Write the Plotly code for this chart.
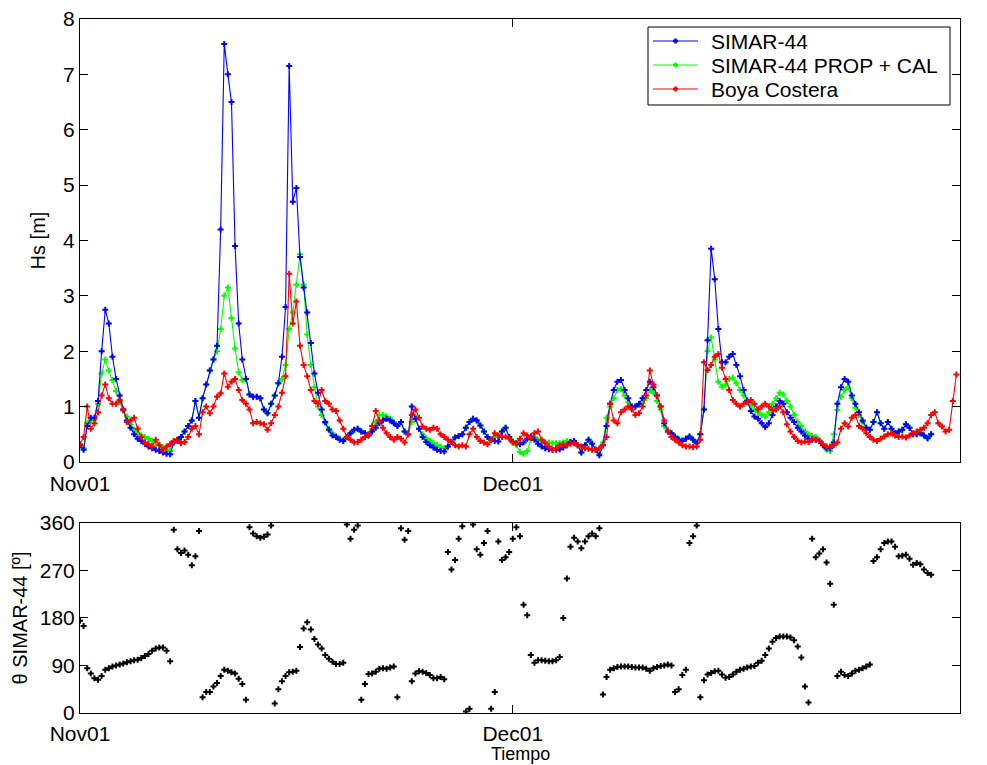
import pandas as pd
import plotly.graph_objects as go
from plotly.subplots import make_subplots

# 6-hourly samples starting 2001-11-01 00:00, one row per day (00, 06, 12, 18 h)
HS_SIMAR = [
    0.30, 0.22, 0.65, 0.80,  0.80, 1.10, 2.00, 2.75,  2.50, 1.90, 1.50, 1.20,
    0.95, 0.75, 0.62, 0.50,  0.42, 0.38, 0.33, 0.28,  0.25, 0.22, 0.20, 0.17,
    0.15, 0.14, 0.35, 0.40,  0.45, 0.55, 0.65, 0.75,  1.10, 0.80, 1.15, 1.40,
    1.65, 1.85, 2.10, 4.20,  7.55, 7.00, 6.50, 3.90,  2.50, 1.85, 1.50, 1.22,
    1.18, 1.18, 1.15, 0.95,  0.88, 1.05, 1.20, 1.42,  1.90, 2.80, 7.15, 4.70,
    4.95, 3.70, 3.15, 2.70,  2.15, 1.60, 1.25, 0.95,  0.72, 0.58, 0.48, 0.45,
    0.40, 0.38, 0.45, 0.52,  0.58, 0.60, 0.55, 0.52,  0.48, 0.55, 0.62, 0.70,
    0.75, 0.78, 0.75, 0.70,  0.65, 0.72, 0.55, 0.50,  1.00, 0.78, 0.60, 0.45,
    0.36, 0.30, 0.26, 0.22,  0.20, 0.19, 0.28, 0.36,  0.44, 0.47, 0.50, 0.62,
    0.72, 0.78, 0.75, 0.66,  0.55, 0.45, 0.40, 0.38,  0.37, 0.55, 0.62, 0.45,
    0.36, 0.34, 0.32, 0.35,  0.42, 0.46, 0.40, 0.33,  0.28, 0.25, 0.23, 0.22,
    0.22, 0.23, 0.26, 0.30,  0.36, 0.38, 0.30, 0.17,  0.30, 0.40, 0.33, 0.22,
    0.12, 0.30, 0.65, 1.05,  1.30, 1.45, 1.48, 1.30,  1.15, 1.00, 1.00, 1.05,
    1.15, 1.30, 1.45, 1.35,  1.20, 1.00, 0.70, 0.55,  0.52, 0.45, 0.40, 0.38,
    0.42, 0.46, 0.40, 0.34,  0.50, 0.95, 2.20, 3.85,  3.30, 2.40, 1.80, 1.80,
    1.90, 1.95, 1.75, 1.55,  1.30, 1.10, 0.92, 0.82,  0.78, 0.70, 0.63, 0.70,
    0.85, 1.00, 1.10, 1.05,  0.90, 0.80, 0.72, 0.62,  0.55, 0.48, 0.42, 0.40,
    0.40, 0.38, 0.30, 0.25,  0.25, 0.35, 1.05, 1.35,  1.50, 1.45, 1.20, 1.05,
    0.90, 0.75, 0.62, 0.58,  0.72, 0.90, 0.70, 0.60,  0.72, 0.60, 0.52, 0.55,
    0.58, 0.68, 0.62, 0.50,  0.50, 0.52, 0.48, 0.43,  0.50, None, None, None,
    None, None, None, None,
]

HS_PROP_CAL = [
    0.30, 0.25, 0.70, 0.75,  0.76, 1.05, 1.60, 1.85,  1.65, 1.48, 1.28, 1.08,
    0.92, 0.82, 0.68, 0.58,  0.52, 0.48, 0.45, 0.42,  0.38, 0.34, 0.30, 0.26,
    0.22, 0.20, 0.35, 0.40,  0.45, 0.55, 0.65, 0.75,  1.10, 0.80, 1.15, 1.40,
    1.65, 1.85, 2.00, 2.40,  3.00, 3.15, 2.60, 2.05,  1.62, 1.48, 1.50, 1.22,
    1.18, 1.18, 1.15, 0.95,  0.88, 1.05, 1.20, 1.42,  1.50, 1.75, 2.40, 2.70,
    3.20, 3.75, 3.20, 2.30,  1.75, 1.35, 1.00, 0.85,  0.70, 0.60, 0.52, 0.47,
    0.42, 0.40, 0.45, 0.52,  0.58, 0.60, 0.55, 0.52,  0.48, 0.60, 0.72, 0.85,
    0.85, 0.82, 0.78, 0.72,  0.66, 0.72, 0.55, 0.50,  0.72, 0.82, 0.60, 0.50,
    0.43, 0.38, 0.34, 0.30,  0.27, 0.25, 0.28, 0.36,  0.44, 0.47, 0.50, 0.62,
    0.72, 0.78, 0.75, 0.66,  0.55, 0.45, 0.40, 0.45,  0.45, 0.55, 0.62, 0.45,
    0.38, 0.30, 0.18, 0.15,  0.20, 0.40, 0.45, 0.40,  0.38, 0.36, 0.35, 0.34,
    0.34, 0.34, 0.35, 0.38,  0.36, 0.38, 0.30, 0.17,  0.30, 0.40, 0.33, 0.22,
    0.15, 0.35, 0.80, 1.00,  1.15, 1.30, 1.32, 1.20,  1.08, 1.00, 1.00, 1.03,
    1.06, 1.15, 1.30, 1.25,  1.10, 0.95, 0.65, 0.58,  0.52, 0.47, 0.42, 0.40,
    0.42, 0.46, 0.40, 0.35,  0.50, 0.95, 2.00, 2.25,  1.85, 1.45, 1.36, 1.40,
    1.50, 1.52, 1.42, 1.30,  1.20, 1.12, 1.03, 0.95,  0.90, 0.85, 0.82, 0.90,
    1.05, 1.15, 1.25, 1.22,  1.10, 1.00, 0.85, 0.72,  0.65, 0.55, 0.50, 0.47,
    0.45, 0.40, 0.30, 0.22,  0.20, 0.50, 0.94, 1.18,  1.30, 1.35, 1.15, 0.98,
    0.85, 0.72, 0.62, 0.58,  0.72, 0.90, 0.70, 0.60,  0.72, 0.60, 0.52, 0.55,
    0.58, 0.68, 0.62, 0.50,  0.50, 0.52, 0.48, 0.43,  0.50, None, None, None,
    None, None, None, None,
]

HS_BOYA = [
    0.32, 0.45, 1.00, 0.60,  0.70, 0.90, 1.20, 1.40,  1.15, 1.05, 1.05, 1.12,
    0.95, 0.72, 0.75, 0.80,  0.60, 0.45, 0.35, 0.32,  0.28, 0.40, 0.30, 0.22,
    0.28, 0.32, 0.38, 0.38,  0.34, 0.36, 0.45, 0.60,  0.65, 0.50, 0.90, 1.00,
    0.88, 1.00, 1.18, 1.24,  1.60, 1.36, 1.45, 1.50,  1.30, 1.12, 1.05, 0.95,
    0.70, 0.72, 0.70, 0.68,  0.58, 0.70, 0.85, 1.00,  1.25, 1.55, 3.40, 2.50,
    2.90, 2.10, 1.75, 1.55,  1.30, 1.10, 1.05, 1.30,  1.10, 1.05, 0.95, 0.92,
    0.75, 0.60, 0.45, 0.40,  0.35, 0.36, 0.40, 0.45,  0.50, 0.65, 0.92, 0.75,
    0.62, 0.52, 0.45, 0.40,  0.45, 0.42, 0.35, 0.50,  0.85, 0.95, 0.80, 0.64,
    0.60, 0.58, 0.62, 0.60,  0.50, 0.45, 0.40, 0.36,  0.30, 0.28, 0.30, 0.28,
    0.50, 0.60, 0.45, 0.38,  0.35, 0.32, 0.40, 0.52,  0.48, 0.45, 0.46, 0.42,
    0.35, 0.34, 0.42, 0.52,  0.48, 0.43, 0.52, 0.55,  0.40, 0.34, 0.28, 0.22,
    0.25, 0.30, 0.32, 0.30,  0.33, 0.34, 0.30, 0.28,  0.25, 0.24, 0.22, 0.22,
    0.25, 0.30, 0.45, 1.05,  0.75, 0.70, 0.90, 0.95,  1.00, 0.95, 0.85, 0.88,
    1.00, 1.20, 1.65, 1.40,  1.20, 1.00, 0.75, 0.55,  0.45, 0.40, 0.35, 0.30,
    0.28, 0.28, 0.27, 0.28,  0.40, 1.80, 1.66, 1.75,  1.90, 1.95, 1.70, 1.50,
    1.30, 1.12, 1.05, 1.00,  1.05, 1.08, 1.12, 1.05,  0.95, 1.00, 1.05, 1.00,
    0.94, 0.95, 1.00, 0.90,  0.68, 0.55, 0.45, 0.38,  0.35, 0.37, 0.36, 0.42,
    0.40, 0.38, 0.32, 0.28,  0.28, 0.30, 0.35, 0.60,  0.70, 0.64, 0.80, 0.85,
    0.65, 0.60, 0.52, 0.45,  0.40, 0.38, 0.42, 0.46,  0.50, 0.52, 0.48, 0.45,
    0.46, 0.44, 0.48, 0.52,  0.55, 0.58, 0.62, 0.70,  0.85, 0.90, 0.70, 0.64,
    0.55, 0.58, 1.10, 1.58,
]

DIR_SIMAR = [
    175, 165, 85, 75,   66, 63, 70, 82,    85, 88, 90, 92,    94, 96, 98, 100,
    101, 104, 108, 112, 118, 122, 124, 124, 118, 98, 347, 310, 303, 308, 300, 280,
    297, 345, 30, 40,   40, 50, 57, 70,    82, 80, 77, 75,    65, 55, 25, 352,
    340, 335, 332, 334, 338, 355, 18, 45,  60, 70, 77, 78,    80, 125, 160, 172,
    158, 140, 130, 122, 110, 103, 97, 93,  93, 95, 357, 330,  347, 355, 25, 55,
    74, 75, 78, 84,     85, 84, 86, 88,    30, 350, 328, 345, 60, 75, 79, 78,
    76, 72, 66, 66,     68, 64, 305, 272,  290, 330, 354, 3,  8, 357, 310, 300,
    322, 345, 8, 40,    325, 290, 295, 305, 330, 352, 335, 205, 185, 110, 95, 100,
    100, 99, 98, 98,    100, 106, 180, 255, 315, 332, 325, 312, 325, 335, 340, 335,
    350, 35, 68, 82,    85, 87, 88, 88,    88, 87, 86, 86,    86, 84, 80, 85,
    87, 89, 90, 92,     90, 40, 45, 72,    82, 322, 335, 355, 30, 62, 73, 76,
    79, 80, 73, 67,     68, 73, 78, 82,    84, 86, 88, 89,    95, 99, 110, 122,
    135, 142, 145, 145, 145, 143, 138, 126, 105, 50, 20, 330, 295, 302, 310, 285,
    245, 205, 70, 78,   72, 70, 75, 80,    82, 85, 88, 92,    288, 295, 310, 322,
    325, 325, 315, 297, 298, 300, 292, 281, 284, 282, 272, 265, 262, None, None, None,
    None, None, None, None,
]

TIME = pd.date_range("2001-11-01", periods=len(HS_BOYA), freq="6h")

X_TICKS = ["2001-11-01", "2001-12-01", "2002-01-01"]
X_TICK_TEXT = ["Nov01", "Dec01", "Jan02"]
HS_TICKS = [0, 1, 2, 3, 4, 5, 6, 7, 8]
DIR_TICKS = [0, 90, 180, 270, 360]

FONT = "Liberation Sans, Arial, sans-serif"
TICK_SIZE = 21
TITLE_SIZE = 20

# plotting order: calibrated series under the raw SIMAR series, buoy on top
SERIES = [
    ("SIMAR-44", HS_SIMAR, "#0000ff"),
    ("SIMAR-44 PROP + CAL", HS_PROP_CAL, "#00ff00"),
    ("Boya Costera", HS_BOYA, "#ff0000"),
]
DRAW_ORDER = [1, 0, 2]

fig = make_subplots(rows=2, cols=1, vertical_spacing=0.0)

for idx in DRAW_ORDER:
    name, values, color = SERIES[idx]
    fig.add_trace(
        go.Scatter(
            x=TIME, y=values, name=name, mode="lines+markers",
            line=dict(color=color, width=1.1),
            marker=dict(symbol="cross", size=5, color=color),
            showlegend=False, connectgaps=False,
        ),
        row=1, col=1,
    )

fig.add_trace(
    go.Scatter(
        x=TIME, y=DIR_SIMAR, mode="markers", showlegend=False,
        marker=dict(symbol="cross", size=5, color="black"),
    ),
    row=2, col=1,
)

axis_common = dict(
    showline=True, linecolor="black", linewidth=1, mirror="ticks",
    ticks="inside", ticklen=8, tickcolor="black", showgrid=False,
    zeroline=False, automargin=False,
    tickfont=dict(family=FONT, size=TICK_SIZE, color="black"),
)

fig.update_xaxes(
    type="date", range=["2001-11-01", "2002-01-01"],
    tickvals=X_TICKS, ticktext=X_TICK_TEXT, ticklabelstandoff=3, **axis_common,
)
fig.update_xaxes(row=2, col=1, ticklabelstandoff=2)

fig.update_yaxes(
    row=1, col=1, range=[0, 8], tickvals=HS_TICKS, domain=[0.3617, 1.0],
    title=dict(text="Hs [m]", font=dict(family=FONT, size=TITLE_SIZE, color="black"), standoff=12),
    **axis_common,
)
fig.update_yaxes(
    row=2, col=1, range=[0, 360], tickvals=DIR_TICKS, domain=[0.0, 0.2738],
    title=dict(text="θ SIMAR-44 [º]", font=dict(family=FONT, size=TITLE_SIZE, color="black"), standoff=6),
    **axis_common,
)

# pixel -> paper helpers for the fixed plotting frame
PLOT_L, PLOT_W, PLOT_B, PLOT_H = 80, 880, 713, 694


def px(x):
    return (x - PLOT_L) / PLOT_W


def py(y):
    return (PLOT_B - y) / PLOT_H


# legend box in the upper panel
shapes = [
    dict(type="rect", xref="paper", yref="paper",
         x0=px(648), x1=px(950), y0=py(105), y1=py(27),
         line=dict(color="black", width=1), fillcolor="white", layer="above"),
]
annotations = []
ROW_Y = [41, 65, 89]
for (name, _, color), ry in zip(SERIES, ROW_Y):
    shapes.append(dict(type="line", xref="paper", yref="paper",
                       x0=px(653), x1=px(698), y0=py(ry), y1=py(ry),
                       line=dict(color=color, width=1.1), layer="above"))
    shapes.append(dict(type="line", xref="paper", yref="paper",
                       x0=px(673), x1=px(678), y0=py(ry), y1=py(ry),
                       line=dict(color=color, width=2.5), layer="above"))
    shapes.append(dict(type="line", xref="paper", yref="paper",
                       x0=px(675.5), x1=px(675.5), y0=py(ry - 2.5), y1=py(ry + 2.5),
                       line=dict(color=color, width=2.5), layer="above"))
    annotations.append(dict(
        text=name, xref="paper", yref="paper", x=px(709), y=py(ry),
        xanchor="left", yanchor="middle", showarrow=False,
        font=dict(family=FONT, size=21, color="black"),
    ))

# time-axis title under the lower panel
annotations.append(dict(
    text="Tiempo", xref="paper", yref="paper", x=px(520), y=py(765),
    xanchor="center", yanchor="bottom", showarrow=False, borderpad=0,
    font=dict(family=FONT, size=18, color="black"),
))

fig.update_layout(
    width=987, height=765,
    margin=dict(l=80, r=27, t=19, b=52),
    paper_bgcolor="white", plot_bgcolor="white",
    font=dict(family=FONT, size=20, color="black"),
    showlegend=False,
    shapes=shapes,
    annotations=annotations,
)

fig.write_html("out.html")
